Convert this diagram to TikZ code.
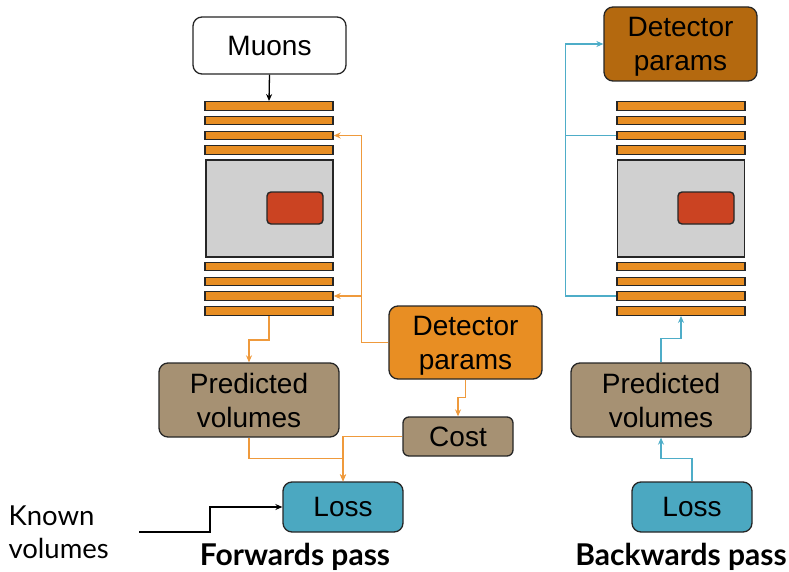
\documentclass[tikz,border=0pt]{standalone}
\usepackage{fontspec}
\setmainfont{Liberation Sans}
\newfontfamily\gillfont{Lato}
\usetikzlibrary{arrows.meta}
\definecolor{plateorange}{HTML}{E88E23}
\definecolor{darkorange}{HTML}{B4690F}
\definecolor{boxbrown}{HTML}{A69173}
\definecolor{lossteal}{HTML}{4BA8C1}
\definecolor{absgray}{HTML}{D0D0D0}
\definecolor{targetred}{HTML}{CB4322}
\definecolor{fwdline}{HTML}{EF9A3C}
\definecolor{bwdline}{HTML}{4EADC8}
\begin{document}
\begin{tikzpicture}[x=1pt,y=-1pt]
\tikzstyle{plate}=[draw=black!85,line width=1.4pt,fill=plateorange,minimum width=128pt,minimum height=8.5pt,inner sep=0pt]
\tikzstyle{absorber}=[draw=black!85,line width=1.4pt,fill=absgray,minimum width=127pt,minimum height=97pt,inner sep=0pt]
\tikzstyle{target}=[draw=black!85,line width=1.4pt,fill=targetred,rounded corners=4pt,minimum width=56pt,minimum height=32pt,inner sep=0pt]
\tikzstyle{blk}=[draw=black!85,line width=1.3pt,rounded corners=9pt,align=center,inner sep=0pt,text depth=0pt,font=\fontsize{28}{34}\selectfont]
\tikzstyle{fwd}=[draw=fwdline,line width=1.6pt]
\tikzstyle{bwd}=[draw=bwdline,line width=1.6pt]
\tikzstyle{tip}=[-{Stealth[length=7pt,width=6pt]}]
\useasboundingbox (0,0) rectangle (789,572);

% forwards pass
\node[blk,fill=white,minimum width=153pt,minimum height=57pt] (muons) at (269.5,45.5) {Muons};
\foreach \n/\y in {1/106,2/120.5,3/135.5,4/150,5/266.5,6/281.5,7/296,8/311}
  \node[plate] (lp\n) at (269,\y) {};
\node[absorber] (labs) at (269.5,208.5) {};
\node[target] (ltgt) at (295,208) {};
\node[blk,fill=plateorange,minimum width=153pt,minimum height=73pt] (ldp) at (465.5,342.5) {Detector\\params};
\node[blk,fill=boxbrown,minimum width=180pt,minimum height=74pt] (lpred) at (249,400) {Predicted\\volumes};
\node[blk,fill=boxbrown,rounded corners=6pt,minimum width=110pt,minimum height=39pt] (cost) at (458,436.5) {Cost};
\node[blk,fill=lossteal,minimum width=120pt,minimum height=50pt] (lloss) at (343,507) {Loss};
\node[align=left,anchor=west,font=\gillfont\fontsize{27.5}{33}\selectfont] (known) at (5,532) {Known\\volumes};
\coordinate (kv) at (139,532);
\node[font=\gillfont\bfseries\fontsize{30}{32}\selectfont] (fwdlabel) at (295,557) {Forwards pass};

\draw[line width=1.3pt,tip] (muons.south) -- (lp1.north);
\draw[fwd,tip] (ldp.west) -- ++(-27,0) |- (lp3.east);
\draw[fwd,tip] (ldp.west) -- ++(-27,0) |- (lp7.east);
\draw[fwd,tip] (ldp.south) -- ++(0,18) -| (cost.north);
\draw[fwd,tip] (lp8.south) -- ++(0,24) -| (lpred.north);
\draw[fwd,tip] (lpred.south) -- ++(0,21) -| (lloss.north);
\draw[fwd,tip] (cost.west) -| (lloss.north);
\draw[line width=1.3pt,tip] (kv) -- ++(71,0) |- (lloss.west);

% backwards pass
\node[blk,fill=darkorange,minimum width=153pt,minimum height=74pt] (rdp) at (680.5,44) {Detector\\params};
\foreach \n/\y in {1/106,2/120.5,3/135.5,4/150,5/266.5,6/281.5,7/296,8/311}
  \node[plate] (rp\n) at (681,\y) {};
\node[absorber] (rabs) at (681,208.5) {};
\node[target] (rtgt) at (706,208) {};
\node[blk,fill=boxbrown,minimum width=180pt,minimum height=74pt] (rpred) at (661,400) {Predicted\\volumes};
\node[blk,fill=lossteal,minimum width=120pt,minimum height=50pt] (rloss) at (692,507) {Loss};
\node[font=\gillfont\bfseries\fontsize{30}{32}\selectfont] (bwdlabel) at (681,557) {Backwards pass};

\draw[bwd,tip] (rp7.west) -- ++(-51,0) |- (rdp.west);
\draw[bwd] (rp3.west) -- ++(-51,0);
\draw[bwd,tip] (rpred.north) -- ++(0,-24) -| (rp8.south);
\draw[bwd,tip] (rloss.north) -- ++(0,-23) -| (rpred.south);
\end{tikzpicture}
\end{document}
